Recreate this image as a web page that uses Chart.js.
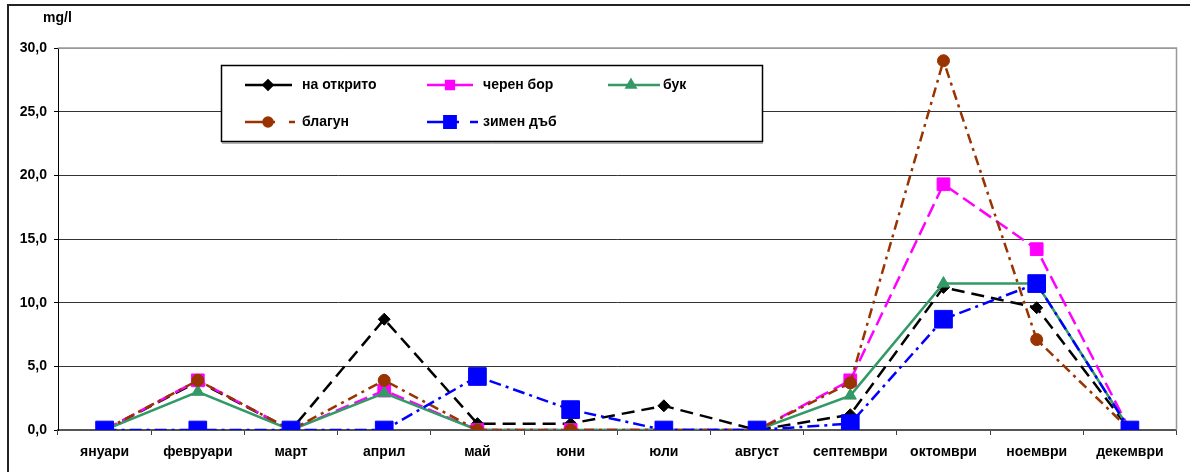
<!DOCTYPE html>
<html>
<head>
<meta charset="utf-8">
<script src="https://cdn.jsdelivr.net/npm/chart.js@4.4.1/dist/chart.umd.min.js"></script>
<style>
  body { margin: 0; background: #fff; }
  #wrap { width: 1190px; height: 472px; position: relative; }
</style>
</head>
<body>
<div id="wrap"><canvas id="chart"></canvas></div>
<script>
// Months on the x axis
const months = ['януари', 'февруари', 'март', 'април', 'май', 'юни', 'юли', 'август', 'септември', 'октомври', 'ноември', 'декември'];

// Series values (mg/l)
const naOtkrito = [0, 3.8, 0, 8.7, 0.5, 0.5, 1.9, 0, 1.2, 11.2, 9.6, 0];
const cherenBor = [0, 3.9, 0, 3.1, 0, 0, 0, 0, 3.9, 19.3, 14.2, 0];
const buk = [0, 3.0, 0, 2.9, 0, 0, 0, 0, 2.7, 11.5, 11.5, 0];
const blagun = [0, 3.9, 0, 3.9, 0, 0, 0, 0, 3.7, 29.0, 7.1, 0];
const zimenDab = [0, 0, 0, 0, 4.2, 1.6, 0, 0, 0.5, 8.7, 11.5, 0];

const yTicks = [0, 5, 10, 15, 20, 25, 30];
const unitLabel = 'mg/l';

const FONT = '"Liberation Sans", Arial, sans-serif';

function series(label, data, color, dash, legendDash, style, radius, legendRadius, order) {
    return {
        label: label,
        data: data,
        borderColor: color,
        backgroundColor: color,
        pointBackgroundColor: color,
        pointBorderColor: color,
        borderWidth: 2.5,
        borderDash: dash,
        legendDash: legendDash,
        pointStyle: style,
        pointRadius: radius,
        pointBorderWidth: 1,
        pointHoverRadius: radius,
        legendRadius: legendRadius,
        tension: 0,
        fill: false,
        order: order
    };
}

const datasets = [
    series('на открито', naOtkrito, '#000000', [13, 7], [], 'rectRot', 6, 4.5, 4),
    series('черен бор', cherenBor, '#FF00FF', [14, 6], [], 'rect', 9, 5.5, 3),
    series('бук', buk, '#339966', [], [], 'triangle', 7, 5, 2),
    series('благун', blagun, '#993300', [10, 5, 3, 5], [30, 14, 6, 100], 'circle', 6, 4.5, 1),
    series('зимен дъб', zimenDab, '#0000FF', [12, 5, 3, 5], [32, 11, 8, 100], 'rect', 12.5, 8, 0)
];

// legend slots inside the box: [lineStart, lineEnd, textX, y]
const legendSlots = [
    [245, 292, 302, 85],
    [427, 473, 483, 85],
    [608, 660, 663, 85],
    [245, 295, 302, 122],
    [427, 478, 483, 122]
];

// Frame: outer border, plot area border, unit label
const framePlugin = {
    id: 'frame',
    beforeDraw(chart) {
        const ctx = chart.ctx;
        ctx.save();
        ctx.strokeStyle = '#222';
        ctx.lineWidth = 2;
        ctx.beginPath();
        ctx.moveTo(8, 472);
        ctx.lineTo(8, 5);
        ctx.lineTo(1190, 5);
        ctx.stroke();

        ctx.font = 'bold 14px ' + FONT;
        ctx.fillStyle = '#000';
        ctx.textBaseline = 'middle';
        ctx.textAlign = 'left';
        ctx.fillText(unitLabel, 43, 18);
        ctx.restore();
    },
    afterDatasetsDraw(chart) {
        const ctx = chart.ctx;
        const a = chart.chartArea;
        ctx.save();
        ctx.strokeStyle = '#999';
        ctx.lineWidth = 1.5;
        ctx.beginPath();
        ctx.moveTo(a.left, a.top);
        ctx.lineTo(a.right, a.top);
        ctx.lineTo(a.right, a.bottom);
        ctx.stroke();
        ctx.restore();
    }
};

// Boxed legend drawn over the plot
const boxLegendPlugin = {
    id: 'boxLegend',
    afterDraw(chart) {
        const ctx = chart.ctx;
        ctx.save();
        ctx.fillStyle = '#fff';
        ctx.fillRect(221, 65, 542, 77);
        ctx.strokeStyle = '#000';
        ctx.lineWidth = 1.5;
        ctx.strokeRect(221.5, 65.5, 541, 76);
        ctx.strokeStyle = '#666';
        ctx.lineWidth = 1;
        ctx.beginPath();
        ctx.moveTo(222, 143);
        ctx.lineTo(763, 143);
        ctx.stroke();

        chart.data.datasets.forEach((ds, i) => {
            const s = legendSlots[i];
            const y = s[3];
            ctx.strokeStyle = ds.borderColor;
            ctx.lineWidth = ds.borderWidth;
            ctx.setLineDash(ds.legendDash);
            ctx.beginPath();
            ctx.moveTo(s[0], y);
            ctx.lineTo(s[1], y);
            ctx.stroke();
            ctx.setLineDash([]);
            ctx.fillStyle = ds.borderColor;
            Chart.helpers.drawPoint(ctx, {
                pointStyle: ds.pointStyle,
                radius: ds.legendRadius,
                borderWidth: 1,
                rotation: 0
            }, s[0] + 23, y);

            ctx.fillStyle = '#000';
            ctx.font = 'bold 14px ' + FONT;
            ctx.textAlign = 'left';
            ctx.textBaseline = 'middle';
            ctx.fillText(ds.label, s[2], y);
        });
        ctx.restore();
    }
};

new Chart(document.getElementById('chart'), {
    type: 'line',
    data: {
        labels: months,
        datasets: datasets
    },
    options: {
        responsive: true,
        maintainAspectRatio: false,
        animation: false,
        devicePixelRatio: 1,
        layout: {
            padding: { top: 48, right: 8, left: 0, bottom: 0 }
        },
        plugins: {
            legend: { display: false },
            tooltip: { enabled: false }
        },
        scales: {
            x: {
                offset: true,
                afterFit: (scale) => { scale.height = 42; },
                grid: {
                    offset: true,
                    drawOnChartArea: false,
                    drawTicks: true,
                    tickLength: 5,
                    color: '#404040'
                },
                border: { display: true, color: '#555', width: 2 },
                ticks: {
                    color: '#000',
                    padding: 9,
                    maxRotation: 0,
                    autoSkip: false,
                    font: { family: FONT, size: 14, weight: 'bold' }
                }
            },
            y: {
                min: 0,
                max: 30,
                afterFit: (scale) => { scale.width = 58; },
                afterBuildTicks: (scale) => { scale.ticks = yTicks.map(v => ({ value: v })); },
                grid: {
                    color: (c) => c.tick && c.tick.value === 0 ? 'rgba(0,0,0,0)' : (c.tick && c.tick.value === 30 ? '#999' : '#333'),
                    tickColor: '#000',
                    tickLength: 4,
                    lineWidth: 1
                },
                border: { display: true, color: '#000', width: 1 },
                ticks: {
                    color: '#000',
                    padding: 7,
                    font: { family: FONT, size: 14, weight: 'bold' },
                    callback: (v) => v.toFixed(1).replace('.', ',')
                }
            }
        }
    },
    plugins: [framePlugin, boxLegendPlugin]
});
</script>
</body>
</html>
